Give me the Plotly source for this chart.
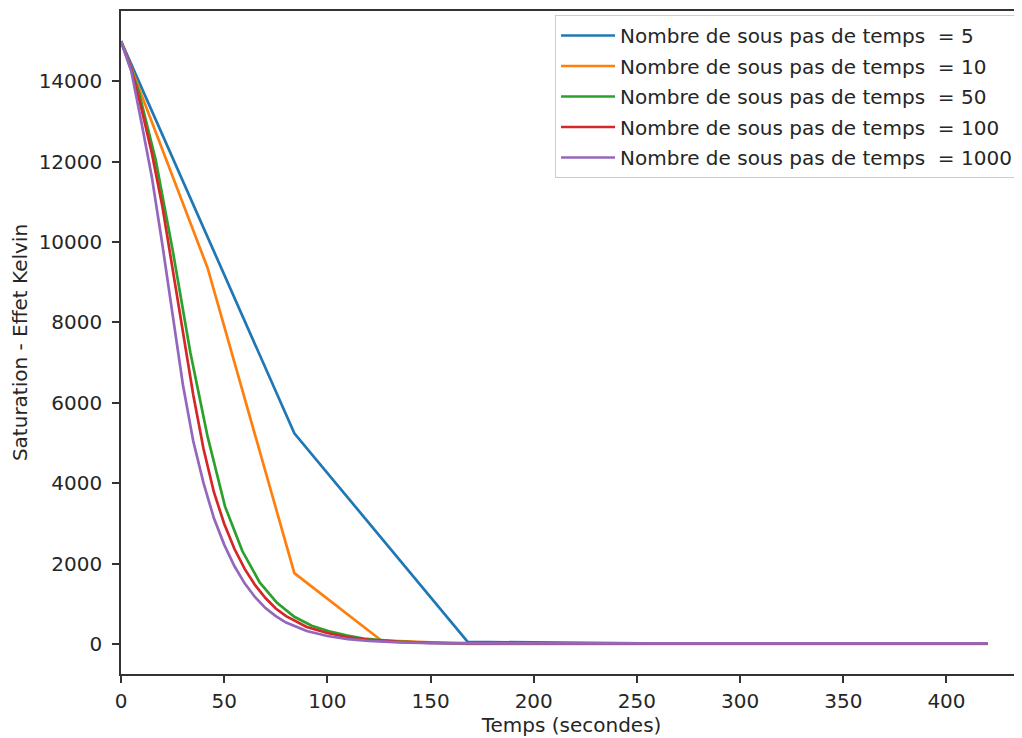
import plotly.graph_objects as go

# ---- data ----
t_5 = [0, 84, 168, 252, 336, 420]
s_5 = [15000, 5240, 50, 10, 10, 10]

t_10 = [0, 42, 84, 126, 168, 210, 252, 294, 336, 378, 420]
s_10 = [15000, 9350, 1760, 90, 0, 0, 0, 0, 0, 0, 0]

t_50 = [0, 8.4, 16.8, 25.2, 33.6, 42, 50.4, 58.8, 67.2, 75.6, 84, 92.4, 100.8,
        109.2, 117.6, 126, 134.4, 142.8, 151.2, 159.6, 420]
s_50 = [15000, 13780, 12050, 9750, 7250, 5150, 3420, 2310, 1530, 1020, 675, 450,
        315, 210, 130, 85, 55, 35, 22, 15, 10]

t_100 = [0, 5, 10, 15, 20, 25, 30, 35, 40, 45, 50, 55, 60, 65, 70, 75, 80, 90,
         100, 110, 120, 135, 150, 175, 420]
s_100 = [15000, 14300, 13300, 12200, 10900, 9300, 7750, 6200, 4850, 3780, 2990,
         2360, 1860, 1460, 1140, 880, 690, 420, 270, 165, 100, 50, 25, 12, 10]

t_1000 = [0, 5, 10, 15, 20, 25, 30, 35, 40, 45, 50, 55, 60, 65, 70, 75, 80, 90,
          100, 110, 120, 135, 150, 175, 420]
s_1000 = [15000, 14250, 12950, 11600, 9950, 8150, 6450, 5050, 4000, 3130, 2470,
          1930, 1500, 1160, 890, 690, 530, 320, 195, 120, 75, 38, 20, 12, 10]

substeps = [5, 10, 50, 100, 1000]
series_names = ["Nombre de sous pas de temps \u00a0= %d" % n for n in substeps]
colors = ["#1f77b4", "#ff7f0e", "#2ca02c", "#d62728", "#9467bd"]

x_ticks = [0, 50, 100, 150, 200, 250, 300, 350, 400]
y_ticks = [0, 2000, 4000, 6000, 8000, 10000, 12000, 14000]

FONT = "DejaVu Sans"
FS = 20
TXT = "#262626"

fig = go.Figure()
for t, s, name, c in zip([t_5, t_10, t_50, t_100, t_1000],
                         [s_5, s_10, s_50, s_100, s_1000],
                         series_names, colors):
    fig.add_trace(go.Scatter(x=t, y=s, mode="lines", name=name, legendgroup=name,
                             line=dict(color=c, width=2.7)))

axis_common = dict(
    showgrid=False, zeroline=False, showline=True, linecolor="#333333",
    linewidth=1.5, ticks="outside", ticklen=7, tickwidth=1.5,
    tickcolor="#333333", tickfont=dict(family=FONT, size=FS, color=TXT),
    automargin=False, tickformat="d",
)

# the page body has an 8px margin: compensate so the plot area sits at
# x 121..1022, y 11..674 in the 1022x738 window
fig.update_layout(
    width=1014, height=730,
    paper_bgcolor="white", plot_bgcolor="white",
    margin=dict(l=113, r=0, t=3, b=64),
    font=dict(family=FONT, size=FS, color=TXT),
    xaxis=dict(range=[0, 436.6], tickvals=x_ticks, mirror=True,
               ticklabelstandoff=1,
               title=dict(text="Temps (secondes)",
                          font=dict(family=FONT, size=FS, color=TXT), standoff=3),
               **axis_common),
    yaxis=dict(range=[-750, 15750], tickvals=y_ticks,
               ticklabelstandoff=6,
               title=dict(text="Saturation - Effet Kelvin",
                          font=dict(family=FONT, size=FS, color=TXT), standoff=10),
               **axis_common),
    legend=dict(x=0.9956, y=0.994, xanchor="right", yanchor="top",
                bgcolor="rgba(255,255,255,0.8)", bordercolor="#cccccc",
                borderwidth=1, font=dict(family=FONT, size=FS, color=TXT),
                itemwidth=54, tracegroupgap=1.5),
    showlegend=True,
)

fig.write_html("out.html")
